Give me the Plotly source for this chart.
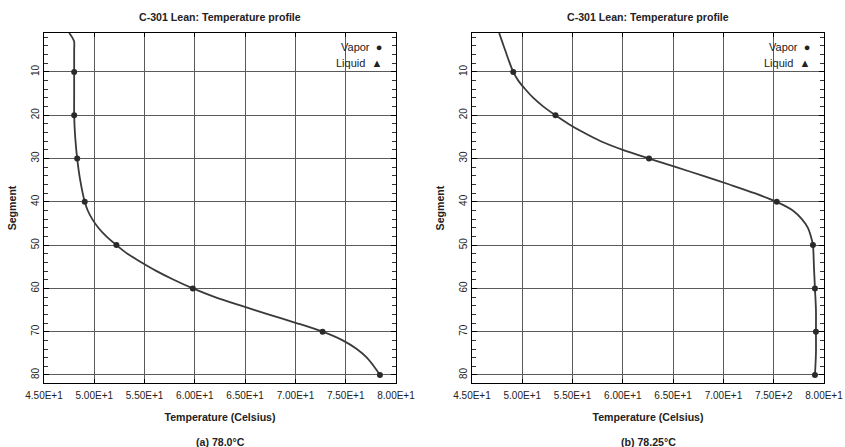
import plotly.graph_objects as go

# ---- data ----
seg_a = [1, 2, 3, 5, 10, 15, 20, 25, 30, 35, 40, 42, 44, 46, 48, 50, 52, 54, 56, 58, 60,
         62, 64, 66, 68, 70, 72, 74, 76, 78, 80]
temp_a = [47.5, 47.8, 48.0, 48.0, 48.0, 48.0, 48.0, 48.1, 48.3, 48.6, 49.05, 49.35, 49.8, 50.4, 51.2, 52.2,
          53.3, 54.7, 56.2, 57.9, 59.8, 62.0, 64.6, 67.3, 70.1, 72.7, 74.7, 76.1, 77.1, 77.8, 78.4]

seg_b = [1, 3, 5, 7, 10, 12, 14, 16, 18, 20, 22, 24, 26, 28, 30, 32, 34, 36, 38, 40,
         42, 44, 46, 48, 50, 55, 60, 65, 70, 75, 80]
temp_b = [47.7, 48.0, 48.3, 48.6, 49.1, 49.6, 50.3, 51.1, 52.1, 53.3, 54.6, 56.1, 57.8, 60.0, 62.6, 65.3,
          68.0, 70.6, 73.1, 75.3, 76.9, 77.8, 78.4, 78.7, 78.9, 79.0, 79.1, 79.2, 79.2, 79.2, 79.1]

x_tickvals = [45, 50, 55, 60, 65, 70, 75, 80]
x_ticktext_a = ["4.50E+1", "5.00E+1", "5.50E+1", "6.00E+1", "6.50E+1", "7.00E+1", "7.50E+1", "8.00E+1"]
x_ticktext_b = ["4.50E+1", "5.00E+1", "5.50E+1", "6.00E+1", "6.50E+1", "7.00E+1", "7.50E+2", "8.00E+1"]
y_tickvals = [10, 20, 30, 40, 50, 60, 70, 80]

title_text = "C-301 Lean: Temperature profile"
captions = ["(a) 78.0°C", "(b) 78.25°C"]

W, H = 845, 447
FONT = "Liberation Sans, Arial, sans-serif"
LINE_COL = "#3a3a3a"
GRID_COL = "#5a5a5a"
TXT = "#222222"

fig = go.Figure()

def add_profile(seg, temp, xa, ya):
    fig.add_trace(go.Scatter(x=temp, y=seg, mode="lines", xaxis=xa, yaxis=ya,
                             line=dict(color=LINE_COL, width=1.8, shape="spline", smoothing=0.8),
                             name="Vapor", showlegend=False, hoverinfo="skip"))
    ms = [s for s in seg if s % 10 == 0]
    mt = [t for s, t in zip(seg, temp) if s % 10 == 0]
    fig.add_trace(go.Scatter(x=mt, y=ms, mode="markers", xaxis=xa, yaxis=ya,
                             marker=dict(symbol="circle", size=6, color="#2a2a2a"),
                             name="Vapor", showlegend=False))

add_profile(seg_a, temp_a, "x", "y")
add_profile(seg_b, temp_b, "x2", "y2")

def px_x(p):
    return p / W

def px_y(p):
    return 1 - p / H

top, bottom = 33, 383
ydom = [px_y(bottom), px_y(top)]
xdom_a = [px_x(44), px_x(396)]
xdom_b = [px_x(472), px_x(824)]

def xaxis(dom, ticktext, anchor):
    return dict(domain=dom, range=[45, 80], anchor=anchor, automargin=False,
                tickvals=x_tickvals, ticktext=ticktext, tickangle=0,
                showgrid=True, gridcolor=GRID_COL, gridwidth=1.3,
                showline=True, linecolor="black", linewidth=1.2, mirror="ticks",
                ticks="inside", ticklen=4, tickcolor="black",
                tickfont=dict(family=FONT, size=10, color=TXT),
                ticklabelstandoff=3,
                title=dict(text="<b>Temperature (Celsius)</b>", font=dict(family=FONT, size=10.6, color=TXT),
                           standoff=13),
                zeroline=False)

def yaxis(anchor):
    return dict(domain=ydom, range=[81.85, 1], anchor=anchor, automargin=False,
                tickvals=y_tickvals, tickangle=-90,
                showgrid=True, gridcolor=GRID_COL, gridwidth=1.3,
                showline=True, linecolor="black", linewidth=1.2, mirror="ticks",
                ticks="inside", ticklen=5, tickcolor="black",
                minor=dict(dtick=2, tick0=0, ticks="inside", ticklen=4, tickcolor="#333", showgrid=False),
                tickfont=dict(family=FONT, size=10, color=TXT),
                ticklabelstandoff=0,
                title=dict(text="<b>Segment</b>", font=dict(family=FONT, size=10.6, color=TXT), standoff=11),
                zeroline=False)

fig.update_layout(
    width=W, height=H,
    margin=dict(l=0, r=0, t=0, b=0, autoexpand=False),
    paper_bgcolor="white", plot_bgcolor="white",
    showlegend=False,
    xaxis=xaxis(xdom_a, x_ticktext_a, "y"),
    yaxis=yaxis("x"),
    xaxis2=xaxis(xdom_b, x_ticktext_b, "y2"),
    yaxis2=yaxis("x2"),
)

anns = []
for i, dom in enumerate([xdom_a, xdom_b]):
    cx = (dom[0] + dom[1]) / 2
    anns.append(dict(x=cx, y=px_y(17), xref="paper", yref="paper", text="<b>" + title_text + "</b>",
                     showarrow=False, font=dict(family=FONT, size=10.6, color=TXT),
                     xanchor="center", yanchor="middle"))
    anns.append(dict(x=cx, y=px_y(442), xref="paper", yref="paper", text="<b>" + captions[i] + "</b>",
                     showarrow=False, font=dict(family=FONT, size=10.6, color=TXT),
                     xanchor="center", yanchor="middle"))
    rx = dom[1] - 12 / W
    anns.append(dict(x=rx, y=px_y(47), xref="paper", yref="paper", text="Vapor  \u25CF",
                     showarrow=False, font=dict(family=FONT, size=11, color=TXT),
                     xanchor="right", yanchor="middle"))
    anns.append(dict(x=rx, y=px_y(63), xref="paper", yref="paper", text="Liquid  \u25B2",
                     showarrow=False, font=dict(family=FONT, size=11, color=TXT),
                     xanchor="right", yanchor="middle"))
fig.update_layout(annotations=anns)

fig.write_html("out.html")
